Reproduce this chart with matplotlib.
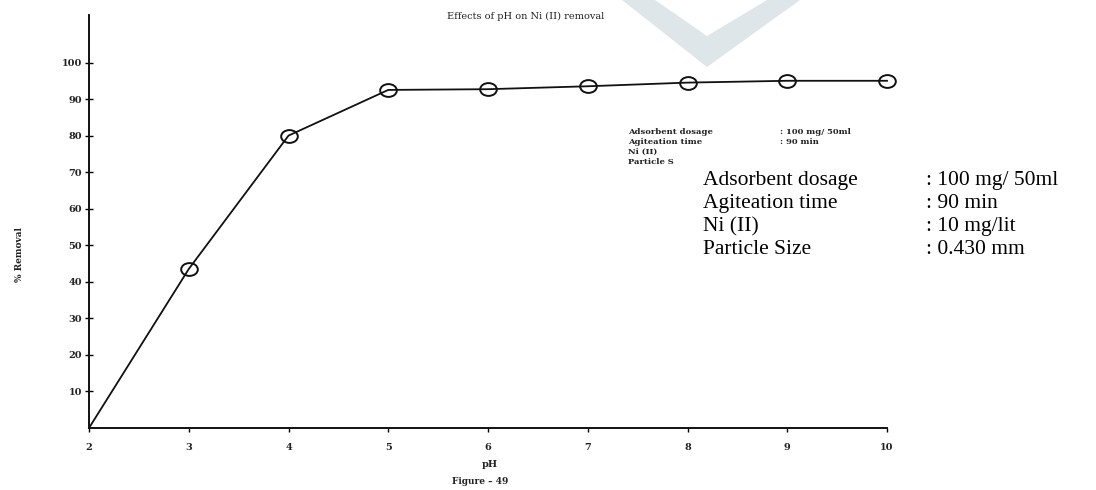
import matplotlib.pyplot as plt
from matplotlib.patches import Polygon, Rectangle
from matplotlib.path import Path
from matplotlib.transforms import Affine2D

# data
ph = [2, 3, 4, 5, 6, 7, 8, 9, 10]
removal = [0, 43.5, 80, 92.5, 92.7, 93.5, 94.5, 95.0, 95.0]
yticks = [10, 20, 30, 40, 50, 60, 70, 80, 90, 100]

cond_names = ['Adsorbent dosage', 'Agiteation time', 'Ni (II)', 'Particle Size']
cond_values = [': 100 mg/ 50ml', ': 90 min', ': 10 mg/lit', ': 0.430 mm']
small_names = ['Adsorbent dosage', 'Agiteation time', 'Ni (II)', 'Particle S']
small_values = [': 100 mg/ 50ml', ': 90 min', '', '']

W, H = 1096, 490
fig = plt.figure(figsize=(W / 100, H / 100), dpi=100)
fig.patch.set_facecolor('white')

def fx(px):
    return px / W

def fy(py):
    return 1 - py / H

scan = dict(family='DejaVu Serif', color='#222222')

# light watermark chevron at the top
fig.add_artist(Polygon([(fx(622), fy(0)), (fx(655), fy(0)), (fx(707), fy(36)),
                        (fx(767), fy(0)), (fx(800), fy(0)), (fx(707), fy(67))],
                       closed=True, transform=fig.transFigure,
                       facecolor='#dfe6e9', edgecolor='none', zorder=-1))

# slightly flattened open circle, as in the scan
oval = Path(Affine2D().scale(1.3, 1.0).transform(Path.unit_circle().vertices),
            Path.unit_circle().codes)

ax = fig.add_axes([fx(89), fy(428), fx(887 - 89), (428 - 15) / H])
ax.plot(ph, removal, color='#111111', lw=1.3, marker=oval, ms=12, mfc='none',
        mec='#111111', mew=1.4, markevery=list(range(1, len(ph))),
        clip_on=False)

ax.set_xlim(2, 10)
ax.set_ylim(0, 113)
ax.set_xticks(ph)
ax.set_xticklabels([str(p) for p in ph], fontsize=7, weight='bold', **scan)
ax.set_yticks(yticks)
ax.set_yticklabels([str(v) for v in yticks], fontsize=7, weight='bold', **scan)
ax.tick_params(axis='y', direction='inout', length=6, width=1, pad=2)
ax.tick_params(axis='x', direction='out', length=3, width=1, pad=8)
for s in ['top', 'right']:
    ax.spines[s].set_visible(False)
for s in ['left', 'bottom']:
    ax.spines[s].set_linewidth(1.4)
    ax.spines[s].set_color('#111111')
ax.patch.set_alpha(0)

# titles and axis captions
fig.text(fx(526), fy(16), 'Effects of pH on Ni (II) removal', ha='center',
         va='center', fontsize=7, **scan)
fig.text(fx(20), fy(255), '% Removal', rotation=90, ha='center', va='center',
         fontsize=6.5, weight='bold', **scan)
fig.text(fx(490), fy(464), 'pH', ha='center', va='center', fontsize=7,
         weight='bold', **scan)
fig.text(fx(480), fy(481), 'Figure \u2013 49', ha='center', va='center',
         fontsize=6.5, weight='bold', **scan)

# small scanned condition block
for i, (n, v) in enumerate(zip(small_names, small_values)):
    y = 132 + i * 10
    fig.text(fx(628), fy(y), n, ha='left', va='center', fontsize=6,
             weight='bold', zorder=1, **scan)
    if v:
        fig.text(fx(780), fy(y), v, ha='left', va='center', fontsize=6,
                 weight='bold', zorder=1, **scan)

# pasted-over larger condition block
fig.add_artist(Rectangle((fx(700), fy(282)), fx(W - 700), (282 - 160) / H,
                         transform=fig.transFigure, facecolor='white',
                         edgecolor='none', zorder=5))
for i, (n, v) in enumerate(zip(cond_names, cond_values)):
    y = 180 + i * 23.3
    fig.text(fx(703), fy(y), n, ha='left', va='center', fontsize=15.5,
             family='Liberation Serif', color='black', zorder=6)
    fig.text(fx(926), fy(y), v, ha='left', va='center', fontsize=15.5,
             family='Liberation Serif', color='black', zorder=6)

fig.savefig('out.png', dpi=100)
